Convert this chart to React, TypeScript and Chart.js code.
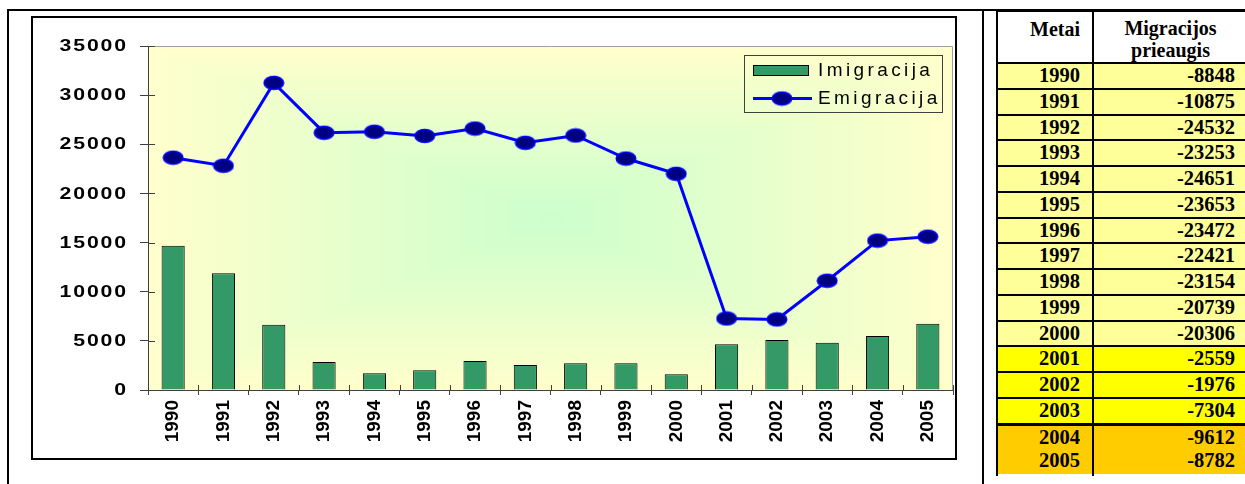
import React, { useEffect, useRef } from "react";
import { Chart, registerables } from "chart.js";

Chart.register(...registerables);

// ---------- data ----------
const years = ["1990", "1991", "1992", "1993", "1994", "1995", "1996", "1997", "1998", "1999", "2000", "2001", "2002", "2003", "2004", "2005"];
const immigration = [14680, 11870, 6650, 2850, 1700, 2000, 2950, 2550, 2720, 2720, 1600, 4650, 5090, 4820, 5500, 6750];
const emigration = [23640, 22820, 31250, 26180, 26280, 25850, 26600, 25150, 25900, 23550, 22000, 7280, 7180, 11120, 15200, 15600];
const seriesNames = ["Imigracija", "Emigracija"];
const yMin = 0;
const yMax = 35000;
const yStep = 5000;

const tableHeaderYear = "Metai";
const tableHeaderNet = ["Migracijos", "prieaugis"];
const netMigration = [-8848, -10875, -24532, -23253, -24651, -23653, -23472, -22421, -23154, -20739, -20306, -2559, -1976, -7304, -9612, -8782];

// ---------- styles ----------
const SANS = "'Liberation Sans', Arial, Helvetica, sans-serif";
const SERIF = "'Liberation Serif', 'Times New Roman', serif";
const BAR_FILL = "#339966";
const LINE_BLUE = "#0000ff";
const MARKER_FILL = "#000080";

function makeMarker(): HTMLCanvasElement {
  const c = document.createElement("canvas");
  c.width = 22;
  c.height = 16;
  const g = c.getContext("2d")!;
  g.beginPath();
  g.ellipse(11, 8, 9.8, 6.5, 0, 0, Math.PI * 2);
  g.fillStyle = MARKER_FILL;
  g.fill();
  g.lineWidth = 1.5;
  g.strokeStyle = LINE_BLUE;
  g.stroke();
  return c;
}

const bgPlugin = {
  id: "plotBg",
  beforeDraw(chart: any) {
    const { ctx, chartArea } = chart;
    const { left, top, right, bottom } = chartArea;
    const w = Math.round(right - left);
    const h = Math.round(bottom - top);
    const off = document.createElement("canvas");
    off.width = w;
    off.height = h;
    const o = off.getContext("2d")!;
    const img = o.createImageData(w, h);
    const inner = [204, 255, 204];
    const outer = [255, 255, 204];
    for (let y = 0; y < h; y++) {
      const ty = Math.abs(y + 0.5 - h / 2) / (h / 2);
      for (let x = 0; x < w; x++) {
        const tx = Math.abs(x + 0.5 - w / 2) / (w / 2);
        const t = Math.max(tx, ty);
        const i = (y * w + x) * 4;
        img.data[i] = inner[0] + (outer[0] - inner[0]) * t;
        img.data[i + 1] = inner[1] + (outer[1] - inner[1]) * t;
        img.data[i + 2] = inner[2] + (outer[2] - inner[2]) * t;
        img.data[i + 3] = 255;
      }
    }
    o.putImageData(img, 0, 0);
    ctx.drawImage(off, left, top);
    ctx.save();
    ctx.strokeStyle = "#a0a0a0";
    ctx.lineWidth = 1;
    ctx.beginPath();
    ctx.moveTo(left, top + 0.5);
    ctx.lineTo(right - 0.5, top + 0.5);
    ctx.lineTo(right - 0.5, bottom);
    ctx.stroke();
    ctx.restore();
  },
};

const decorPlugin = {
  id: "decor",
  afterDraw(chart: any) {
    const { ctx, chartArea, scales } = chart;
    const xs = scales.x;
    const ys = scales.y;
    ctx.save();
    // inner halves of the crossing tick marks
    ctx.strokeStyle = "#404040";
    ctx.lineWidth = 1;
    ctx.beginPath();
    ys.ticks.forEach((t: any) => {
      const py = Math.round(ys.getPixelForValue(t.value)) + 0.5;
      ctx.moveTo(chartArea.left, py);
      ctx.lineTo(chartArea.left + 7, py);
    });
    const n = xs.ticks.length;
    const step = (xs.right - xs.left) / n;
    for (let i = 0; i <= n; i++) {
      const px = Math.round(xs.left + i * step) + 0.5;
      ctx.moveTo(px, chartArea.bottom);
      ctx.lineTo(px, chartArea.bottom - 5);
    }
    ctx.stroke();

    // y tick labels (wide bold)
    ctx.fillStyle = "#000";
    ctx.font = `bold 17px ${SANS}`;
    ctx.textAlign = "right";
    ctx.textBaseline = "middle";
    ys.ticks.forEach((t: any) => {
      const py = ys.getPixelForValue(t.value);
      ctx.save();
      ctx.translate(chartArea.left - 20, py + 0.5);
      ctx.scale(1.25, 1);
      (ctx as any).letterSpacing = "1.5px";
      ctx.fillText(String(t.value), 0, 0);
      ctx.restore();
    });

    // legend
    const ds = chart.data.datasets;
    const barDs = ds.find((d: any) => d.type === "bar");
    const lineDs = ds.find((d: any) => d.type === "line");
    const bx = chartArea.right - 209;
    const by = chartArea.top + 9;
    ctx.strokeStyle = "#404040";
    ctx.lineWidth = 1;
    ctx.strokeRect(bx + 0.5, by + 0.5, 198, 57);

    ctx.fillStyle = BAR_FILL;
    ctx.fillRect(bx + 9.5, by + 10.5, 55, 10);
    ctx.strokeStyle = "#000";
    ctx.strokeRect(bx + 9.5, by + 10.5, 55, 10);

    ctx.strokeStyle = LINE_BLUE;
    ctx.lineWidth = 3;
    ctx.beginPath();
    ctx.moveTo(bx + 9, by + 43.5);
    ctx.lineTo(bx + 68, by + 43.5);
    ctx.stroke();
    const mk = lineDs.pointStyle as HTMLCanvasElement;
    ctx.drawImage(mk, bx + 38 - mk.width / 2, by + 43.5 - mk.height / 2);

    ctx.fillStyle = "#000";
    ctx.font = `19px ${SANS}`;
    ctx.textAlign = "left";
    ctx.textBaseline = "middle";
    (ctx as any).letterSpacing = "3.4px";
    ctx.fillText(barDs.label, bx + 74, by + 16);
    ctx.fillText(lineDs.label, bx + 74, by + 44);
    (ctx as any).letterSpacing = "0px";
    ctx.restore();
  },
};

function MigrationChart() {
  const ref = useRef<HTMLCanvasElement | null>(null);
  useEffect(() => {
    if (!ref.current) return;
    const marker = makeMarker();
    const chart = new Chart(ref.current, {
      type: "bar",
      data: {
        labels: years,
        datasets: [
          {
            type: "line",
            label: seriesNames[1],
            data: emigration,
            borderColor: LINE_BLUE,
            backgroundColor: MARKER_FILL,
            borderWidth: 3,
            pointStyle: marker as any,
            pointRadius: 10,
            pointHoverRadius: 10,
            tension: 0,
            fill: false,
            clip: false as any,
            order: 0,
          } as any,
          {
            type: "bar",
            label: seriesNames[0],
            data: immigration,
            backgroundColor: BAR_FILL,
            borderColor: "#000",
            borderWidth: 1,
            barPercentage: 0.46,
            categoryPercentage: 1,
            order: 1,
          } as any,
        ],
      },
      options: {
        animation: false,
        responsive: false,
        maintainAspectRatio: false,
        events: [],
        layout: { autoPadding: false, padding: { top: 28, right: 2, left: 0, bottom: 0 } },
        plugins: {
          legend: { display: false },
          tooltip: { enabled: false },
        },
        scales: {
          x: {
            offset: true,
            grid: {
              display: true,
              offset: true,
              drawOnChartArea: false,
              drawTicks: true,
              tickLength: 5,
              color: "#404040",
            },
            border: { display: true, color: "#404040", width: 1 },
            ticks: {
              color: "#000",
              font: { family: SANS, size: 19, weight: "bold" },
              minRotation: 90,
              maxRotation: 90,
              padding: 5,
              autoSkip: false,
            },
            afterFit: (s: any) => {
              s.height = 68;
              s.paddingLeft = 0;
              s.paddingRight = 0;
            },
          },
          y: {
            min: yMin,
            max: yMax,
            ticks: {
              stepSize: yStep,
              color: "rgba(0,0,0,0)",
              font: { family: SANS, size: 17, weight: "bold" },
            },
            grid: {
              display: true,
              drawOnChartArea: false,
              drawTicks: true,
              tickLength: 8,
              color: "#404040",
            },
            border: { display: true, color: "#404040", width: 1 },
            afterFit: (s: any) => {
              s.width = 115;
              s.paddingTop = 0;
              s.paddingBottom = 0;
            },
          },
        },
      } as any,
      plugins: [bgPlugin, decorPlugin],
    });
    return () => chart.destroy();
  }, []);
  return (
    <canvas
      ref={ref}
      width={922}
      height={440}
      style={{ position: "absolute", left: 33, top: 18, width: 922, height: 440 }}
    />
  );
}

function rowColor(i: number) {
  if (i >= 14) return "#ffcc00";
  if (i >= 11) return "#ffff00";
  return "#ffff99";
}

function MigrationTable() {
  const rowStart = 62;
  const rowH = 25.75;
  const cellFont: React.CSSProperties = {
    fontFamily: SERIF,
    fontWeight: "bold",
    fontSize: 20.5,
    color: "#000",
  };
  return (
    <>
      {netMigration.map((v, i) => {
        const top = rowStart + i * rowH;
        const borderH = i === 15 ? 0 : i === 14 ? 3 : 2;
        return (
          <div
            key={years[i]}
            style={{
              position: "absolute",
              left: 998,
              top,
              width: 262,
              height: rowH,
              background: rowColor(i),
              borderTop: borderH ? `${borderH}px solid #000` : "none",
              boxSizing: "border-box",
              ...cellFont,
            }}
          >
            <div
              style={{
                position: "absolute",
                left: 0,
                width: 82,
                top: 0,
                bottom: 0,
                textAlign: "right",
                lineHeight: `${rowH - borderH}px`,
                whiteSpace: "nowrap",
              }}
            >
              {years[i]}
            </div>
            <div
              style={{
                position: "absolute",
                left: 96,
                width: 141,
                top: 0,
                bottom: 0,
                textAlign: "right",
                lineHeight: `${rowH - borderH}px`,
                whiteSpace: "nowrap",
              }}
            >
              {String(v)}
            </div>
          </div>
        );
      })}
      {/* header */}
      <div
        style={{
          position: "absolute",
          left: 998,
          top: 12,
          width: 82,
          textAlign: "right",
          lineHeight: "22px",
          paddingTop: 6,
          ...cellFont,
          fontSize: 20,
        }}
      >
        {tableHeaderYear}
      </div>
      <div
        style={{
          position: "absolute",
          left: 1094,
          top: 12,
          width: 153,
          textAlign: "center",
          lineHeight: "22px",
          paddingTop: 5,
          ...cellFont,
          fontSize: 20,
        }}
      >
        {tableHeaderNet[0]}
        <br />
        {tableHeaderNet[1]}
      </div>
      {/* table lines */}
      <div style={{ position: "absolute", left: 996, top: 9, width: 2, height: 467, background: "#000" }} />
      <div style={{ position: "absolute", left: 1092, top: 9, width: 2, height: 467, background: "#000" }} />
      <div style={{ position: "absolute", left: 996, top: 9, width: 300, height: 3, background: "#000" }} />
    </>
  );
}

export default function App() {
  return (
    <div
      style={{
        position: "fixed",
        left: 0,
        top: 0,
        width: 1245,
        height: 484,
        overflow: "hidden",
        background: "#fff",
      }}
    >
      {/* outer frame */}
      <div style={{ position: "absolute", left: 7, top: 9, width: 1300, height: 2, background: "#000" }} />
      <div style={{ position: "absolute", left: 7, top: 9, width: 2, height: 500, background: "#000" }} />
      <div style={{ position: "absolute", left: 982, top: 9, width: 2, height: 500, background: "#000" }} />
      {/* chart frame */}
      <div
        style={{
          position: "absolute",
          left: 31,
          top: 16,
          width: 926,
          height: 444,
          border: "2px solid #000",
          boxSizing: "border-box",
        }}
      />
      <MigrationChart />
      <MigrationTable />
    </div>
  );
}
